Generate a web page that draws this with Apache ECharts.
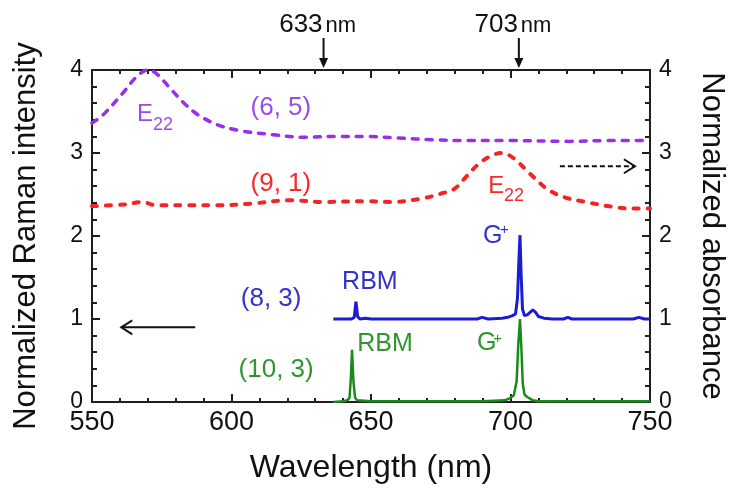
<!DOCTYPE html>
<html>
<head>
<meta charset="utf-8">
<script src="https://cdn.jsdelivr.net/npm/echarts@6/dist/echarts.min.js"></script>
<style>
  html, body { margin: 0; padding: 0; background: #ffffff; }
  #chart { width: 735px; height: 490px; }
</style>
</head>
<body>
<div id="chart"></div>
<script>
// ---- Axis ticks ----
const xTickLabels = [550, 600, 650, 700, 750];
const yTickLabels = [0, 1, 2, 3, 4];
const laserLines = [633, 703];

// ---- Absorbance spectra (right axis) ----
const absWavelength65 = [550, 554, 561, 566, 570, 573, 578, 583, 588, 595, 603, 615, 626, 638, 648, 660, 672, 685, 700, 721, 735, 750];
const absorbance65    = [3.36, 3.46, 3.72, 3.92, 4.00, 3.96, 3.78, 3.60, 3.46, 3.34, 3.27, 3.22, 3.19, 3.20, 3.20, 3.18, 3.16, 3.15, 3.15, 3.14, 3.15, 3.15];

const absWavelength91 = [550, 562, 568, 573, 585, 595, 607, 621, 633, 648, 657, 668, 675, 680, 684, 689, 694, 697, 701, 707, 713, 719, 727, 737, 744, 750];
const absorbance91    = [2.36, 2.38, 2.41, 2.37, 2.37, 2.37, 2.39, 2.43, 2.41, 2.42, 2.41, 2.45, 2.51, 2.57, 2.71, 2.88, 2.98, 3.00, 2.94, 2.75, 2.57, 2.47, 2.41, 2.35, 2.33, 2.33];

// ---- Raman spectra (left axis) ----
const ramanWavelength83 = [636.5, 640, 643, 644, 644.6, 645.2, 646, 648, 650, 660, 670, 680, 688, 689.8, 692, 697, 699, 700.7, 701.8, 702.5, 703.0, 703.4, 703.8, 704.3, 705, 706, 707, 708, 709, 710, 712, 715, 719, 720.6, 722, 730, 744, 746, 748, 750];
const ramanIntensity83  = [1.00, 1.00, 1.00, 1.02, 1.21, 1.03, 1.00, 1.01, 1.00, 1.00, 1.00, 1.00, 1.00, 1.02, 1.00, 1.01, 1.02, 1.04, 1.06, 1.25, 1.70, 2.01, 1.55, 1.12, 1.04, 1.05, 1.08, 1.11, 1.08, 1.03, 1.01, 1.00, 1.00, 1.02, 1.00, 1.00, 1.00, 1.02, 1.00, 1.00];

const ramanWavelength103 = [636.5, 640, 641.5, 642.3, 642.8, 643.2, 643.7, 644.3, 645, 650, 660, 680, 690, 698, 700, 701.2, 702.2, 702.8, 703.4, 703.9, 704.4, 705, 706, 707, 708, 710, 720, 750];
const ramanIntensity103  = [0.00, 0.01, 0.02, 0.05, 0.30, 0.63, 0.25, 0.05, 0.02, 0.01, 0.01, 0.01, 0.01, 0.02, 0.05, 0.08, 0.25, 0.70, 1.00, 0.65, 0.22, 0.09, 0.06, 0.04, 0.02, 0.01, 0.01, 0.01];

const FONT = "'Liberation Sans', Arial, sans-serif";

function pairs(xs, ys) {
  return xs.map((x, i) => [x, ys[i]]);
}

const chart = echarts.init(document.getElementById('chart'), null, { renderer: 'canvas' });

const axisLineStyle = { color: '#1f1f1f', width: 2 };

function xAxisDef(position, showLabels) {
  return {
    type: 'value',
    position: position,
    min: xTickLabels[0],
    max: xTickLabels[xTickLabels.length - 1],
    interval: xTickLabels[1] - xTickLabels[0],
    axisLine: { show: true, onZero: false, lineStyle: axisLineStyle },
    axisTick: { show: true, inside: true, length: 8, lineStyle: { color: '#1f1f1f', width: 2 } },
    minorTick: { show: true, splitNumber: 5, length: 4, lineStyle: { color: '#1f1f1f', width: 2 } },
    splitLine: { show: false },
    axisLabel: {
      show: showLabels, fontSize: 27, color: '#111', margin: 7, fontFamily: FONT,
      showMinLabel: true, showMaxLabel: true
    },
    name: showLabels ? 'Wavelength (nm)' : '',
    nameLocation: 'middle',
    nameGap: 50,
    nameTextStyle: { fontSize: 32, color: '#111', fontFamily: FONT }
  };
}

function yAxisDef(position, name, nameGap, nameRotate) {
  return {
    type: 'value',
    position: position,
    min: yTickLabels[0],
    max: yTickLabels[yTickLabels.length - 1],
    interval: yTickLabels[1] - yTickLabels[0],
    axisLine: { show: true, onZero: false, lineStyle: axisLineStyle },
    axisTick: { show: true, inside: true, length: 8, lineStyle: { color: '#1f1f1f', width: 2 } },
    minorTick: { show: true, splitNumber: 5, length: 5, lineStyle: { color: '#1f1f1f', width: 2 } },
    splitLine: { show: false },
    axisLabel: {
      fontSize: 23, color: '#111', margin: 9, fontFamily: FONT,
      showMinLabel: true, showMaxLabel: true
    },
    name: name,
    nameLocation: 'middle',
    nameGap: nameGap,
    nameRotate: nameRotate,
    nameTextStyle: { fontSize: 31, color: '#111', fontFamily: FONT }
  };
}

chart.setOption({
  animation: false,
  backgroundColor: '#ffffff',
  grid: { left: 92, right: 85, top: 70, bottom: 88, containLabel: false, outerBoundsMode: 'none' },
  xAxis: [xAxisDef('bottom', true), xAxisDef('top', false)],
  yAxis: [
    yAxisDef('left', 'Normalized Raman intensity', 50, 90),
    yAxisDef('right', 'Normalized absorbance', 46, -90)
  ],
  series: [
    {
      name: '(6, 5) absorbance', type: 'line', xAxisIndex: 0, yAxisIndex: 1,
      data: pairs(absWavelength65, absorbance65), smooth: 0.35, showSymbol: false, symbol: 'none',
      lineStyle: { color: '#9a30e6', width: 3.5, type: [6, 8], cap: 'round' }, z: 3
    },
    {
      name: '(9, 1) absorbance', type: 'line', xAxisIndex: 0, yAxisIndex: 1,
      data: pairs(absWavelength91, absorbance91), smooth: 0.35, showSymbol: false, symbol: 'none',
      lineStyle: { color: '#f22424', width: 4, type: [5, 9], cap: 'round' }, z: 3
    },
    {
      name: '(10, 3) Raman', type: 'line', xAxisIndex: 0, yAxisIndex: 0,
      data: pairs(ramanWavelength103, ramanIntensity103), showSymbol: false, symbol: 'none',
      lineStyle: { color: '#1a8a1e', width: 2.5 }, z: 4
    },
    {
      name: '(8, 3) Raman', type: 'line', xAxisIndex: 0, yAxisIndex: 0,
      data: pairs(ramanWavelength83, ramanIntensity83), showSymbol: false, symbol: 'none',
      lineStyle: { color: '#1c1cd2', width: 3 }, z: 5
    }
  ]
});

// ---- Annotations, anchored in data coordinates ----
function px(x, y) {
  return chart.convertToPixel({ xAxisIndex: 0, yAxisIndex: 0 }, [x, y]);
}

const PURPLE_TXT = '#9b4be6';
const RED_TXT = '#f52a2a';
const BLUE_TXT = '#3333cc';
const GREEN_TXT = '#2f962f';

function label(text, x, y, color, size, align) {
  const p = px(x, y);
  return {
    type: 'text', x: p[0], y: p[1], z: 10,
    style: { text: text, fill: color, fontSize: size, fontFamily: FONT, align: align || 'center', verticalAlign: 'middle' }
  };
}

const graphics = [];

// species labels
graphics.push(label('(6, 5)', 617.7, 3.55, PURPLE_TXT, 26));
graphics.push(label('(9, 1)', 617.7, 2.63, RED_TXT, 26));
graphics.push(label('(8, 3)', 614.2, 1.24, BLUE_TXT, 26));
graphics.push(label('(10, 3)', 616.0, 0.39, GREEN_TXT, 26));

// transition / mode labels
graphics.push(label('E', 566.1, 3.47, PURPLE_TXT, 24, 'left'));
graphics.push(label('22', 571.9, 3.34, PURPLE_TXT, 18, 'left'));
graphics.push(label('E', 692.0, 2.60, RED_TXT, 24, 'left'));
graphics.push(label('22', 697.7, 2.48, RED_TXT, 18, 'left'));
graphics.push(label('RBM', 649.6, 1.45, BLUE_TXT, 25));
graphics.push(label('RBM', 655.0, 0.70, GREEN_TXT, 25));
graphics.push(label('G', 690.1, 2.00, BLUE_TXT, 25, 'left'));
graphics.push(label('+', 696.2, 2.07, BLUE_TXT, 15, 'left'));
graphics.push(label('G', 688.0, 0.71, GREEN_TXT, 25, 'left'));
graphics.push(label('+', 693.8, 0.76, GREEN_TXT, 15, 'left'));

// axis-direction arrows
function hArrow(x0, x1, yv, dashed) {
  const a = px(x0, yv), b = px(x1, yv);
  const dir = Math.sign(b[0] - a[0]);
  return [
    { type: 'line', z: 10, shape: { x1: a[0], y1: a[1], x2: b[0], y2: b[1] },
      style: { stroke: '#111', lineWidth: 2, lineDash: dashed ? [5, 3] : null } },
    { type: 'polyline', z: 10,
      shape: { points: [[b[0] - dir * 11, b[1] - 7], [b[0], b[1]], [b[0] - dir * 11, b[1] + 7]] },
      style: { stroke: '#111', lineWidth: 2, fill: null } }
  ];
}
graphics.push(...hArrow(587, 560.5, 0.90, false));
graphics.push(...hArrow(717.7, 744.6, 2.84, true));

// excitation laser markers above the frame
const frameTop = px(550, 4)[1];
laserLines.forEach(function (wl) {
  const xp = px(wl, 4)[0];
  graphics.push({ type: 'line', z: 10, shape: { x1: xp, y1: frameTop - 32, x2: xp, y2: frameTop - 8 },
    style: { stroke: '#111', lineWidth: 2 } });
  graphics.push({ type: 'polygon', z: 10,
    shape: { points: [[xp - 4.5, frameTop - 12], [xp + 4.5, frameTop - 12], [xp, frameTop - 2]] },
    style: { fill: '#111' } });
  graphics.push({ type: 'text', z: 10, x: xp - 1, y: frameTop - 45,
    style: { text: String(wl), fill: '#111', fontSize: 26, fontFamily: FONT, align: 'right', verticalAlign: 'middle' } });
  graphics.push({ type: 'text', z: 10, x: xp + 2, y: frameTop - 44,
    style: { text: 'nm', fill: '#111', fontSize: 22, fontFamily: FONT, align: 'left', verticalAlign: 'middle' } });
});

chart.setOption({ graphic: { elements: graphics } });
</script>
</body>
</html>
